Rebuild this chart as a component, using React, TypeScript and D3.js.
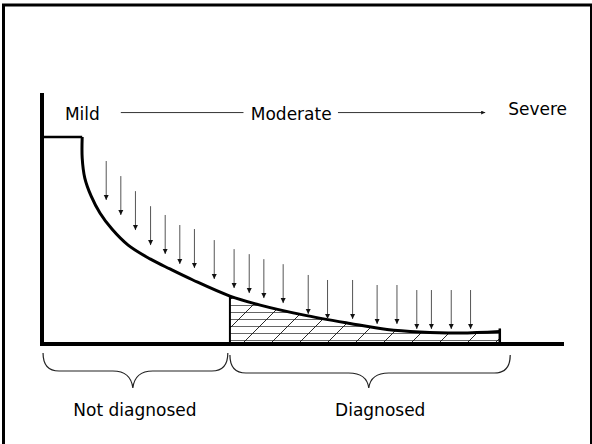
import * as d3 from "d3";

const W = 592;
const H = 444;

// progression of disease (0-100) against number of people (0-100)
const plateau: [number, number][] = [[0, 82.5], [7.7, 82.5]];
const curvePts: [number, number][] = [
  [7.7, 82.5], [7.7, 74.1], [8.2, 66.1], [9.4, 59.0], [11.1, 52.2], [13.4, 45.8],
  [16.5, 39.4], [20.7, 33.9], [24.5, 29.9], [28.9, 25.5], [36.0, 19.1], [41.8, 15.5],
  [50.0, 11.6], [59.0, 8.2], [66.1, 5.8], [72.4, 4.8], [80.1, 4.4], [87.7, 5.0],
];
const arrowX = [12.3, 15.1, 17.9, 20.8, 23.6, 26.4, 29.2, 33.0, 36.8, 39.7, 42.5, 46.2,
  51.0, 54.7, 59.5, 64.2, 68.0, 71.8, 74.6, 78.4, 82.1];
const arrowTip = [57.4, 51.4, 45.4, 39.4, 35.9, 31.9, 30.3, 25.9, 22.3, 20.3, 18.3, 16.3,
  12.0, 10.0, 10.0, 8.0, 8.0, 6.0, 6.0, 6.0, 6.0];
const arrowLen = 15.5;

const diagnosedFrom = 36.0;
const diagnosedTo = 87.7;

const stageNames = ["Mild", "Moderate", "Severe"];
const stageX = [4.4, 40.0, 89.3];
const stageY = [89.2, 89.2, 91.2];
const stageLinks: [number, number][] = [[15.1, 38.6], [56.7, 84.9]];
const stageLinkY = 92.2;

const groupNames = ["Not diagnosed", "Diagnosed"];
const groupFrom = [0.2, 36.0];
const groupTo = [35.6, 89.7];
const groupMid = [17.4, 62.6];
const groupLabelX = [17.8, 64.8];

const x = d3.scaleLinear().domain([0, 100]).range([42, 564]);
const y = d3.scaleLinear().domain([0, 100]).range([344, 93]);

const font = "'DejaVu Sans', Verdana, sans-serif";

function bracePath(x0: number, x1: number, xc: number, yT: number, yM: number, yB: number) {
  const p = d3.path();
  p.moveTo(x0, yT);
  p.quadraticCurveTo(x0, yM, x0 + 16, yM);
  p.lineTo(xc - 20, yM);
  p.quadraticCurveTo(xc - 2, yM, xc, yB);
  p.quadraticCurveTo(xc + 2, yM, xc + 20, yM);
  p.lineTo(x1 - 16, yM);
  p.quadraticCurveTo(x1, yM, x1, yT);
  return p.toString();
}

export default function App() {
  const line = d3.line<[number, number]>()
    .x((d) => x(d[0]))
    .y((d) => y(d[1]))
    .curve(d3.curveCatmullRom.alpha(0.5));
  const area = d3.area<[number, number]>()
    .x((d) => x(d[0]))
    .y0(y(0))
    .y1((d) => y(d[1]))
    .curve(d3.curveCatmullRom.alpha(0.5));

  const base = y(0);
  const endPt = curvePts[curvePts.length - 1];

  return (
    <svg width={W} height={H} style={{ position: "absolute", left: 0, top: 0, background: "#fff" }}>
      <defs>
        <marker id="ah" viewBox="0 0 10 10" refX="10" refY="5" markerWidth="5" markerHeight="6"
          markerUnits="userSpaceOnUse" orient="auto">
          <path d="M0,0 L10,5 L0,10 z" fill="#111" />
        </marker>
        <marker id="ah2" viewBox="0 0 10 10" refX="10" refY="5" markerWidth="5" markerHeight="4"
          markerUnits="userSpaceOnUse" orient="auto">
          <path d="M0,0 L10,5 L0,10 z" fill="#111" />
        </marker>
        <pattern id="hatch" patternUnits="userSpaceOnUse" x={246} y={312} width={28} height={28}>
          {[0, 7, 14, 21].map((h) => (
            <line key={h} x1={0} x2={28} y1={h + 0.5} y2={h + 0.5} stroke="#555" strokeWidth={0.9} />
          ))}
          <line x1={-1} y1={29} x2={29} y2={-1} stroke="#111" strokeWidth={0.9} />
        </pattern>
        <clipPath id="dx">
          <rect x={x(diagnosedFrom)} y={0} width={x(diagnosedTo) - x(diagnosedFrom)} height={H} />
        </clipPath>
      </defs>

      {/* frame */}
      <rect x={3.5} y={5} width={588} height={H + 20} fill="none" stroke="#000" strokeWidth={3} />

      {/* hatched diagnosed area */}
      <path d={area(curvePts) ?? ""} fill="url(#hatch)" clipPath="url(#dx)" />
      <line x1={x(diagnosedFrom)} x2={x(diagnosedFrom)} y1={base} y2={y(19.1)} stroke="#000" strokeWidth={2} />
      <line x1={x(endPt[0])} x2={x(endPt[0])} y1={base} y2={y(endPt[1]) - 3} stroke="#000" strokeWidth={2.5} />

      {/* axes */}
      <line x1={x(0)} x2={x(0)} y1={base + 2} y2={y(100)} stroke="#000" strokeWidth={4} />
      <line x1={x(0) - 2} x2={x(100)} y1={base} y2={base} stroke="#000" strokeWidth={4} />

      {/* curve */}
      <path d={d3.line<[number, number]>().x((d) => x(d[0])).y((d) => y(d[1]))(plateau) ?? ""}
        fill="none" stroke="#000" strokeWidth={2.5} />
      <path d={line(curvePts) ?? ""} fill="none" stroke="#000" strokeWidth={3} />

      {/* arrows */}
      {arrowX.map((ax, i) => (
        <line key={i} x1={x(ax)} x2={x(ax)} y1={y(arrowTip[i] + arrowLen)} y2={y(arrowTip[i])}
          stroke="#555" strokeWidth={1} markerEnd="url(#ah)" />
      ))}

      {/* stage labels */}
      {stageNames.map((s, i) => (
        <text key={s} x={x(stageX[i])} y={y(stageY[i])} fontFamily={font} fontSize={17} fill="#000">{s}</text>
      ))}
      {stageLinks.map((l, i) => (
        <line key={i} x1={x(l[0])} x2={x(l[1])} y1={y(stageLinkY)} y2={y(stageLinkY)}
          stroke="#333" strokeWidth={1} markerEnd={i === 1 ? "url(#ah2)" : undefined} />
      ))}

      {/* braces */}
      {groupNames.map((g, i) => (
        <g key={g}>
          <path d={bracePath(x(groupFrom[i]), x(groupTo[i]), x(groupMid[i]), base + 9 + i * 2, base + 27 + i * 2, base + 44)}
            fill="none" stroke="#222" strokeWidth={1.2} />
          <text x={x(groupLabelX[i])} y={416} textAnchor="middle" fontFamily={font} fontSize={17} fill="#000">{g}</text>
        </g>
      ))}
    </svg>
  );
}
